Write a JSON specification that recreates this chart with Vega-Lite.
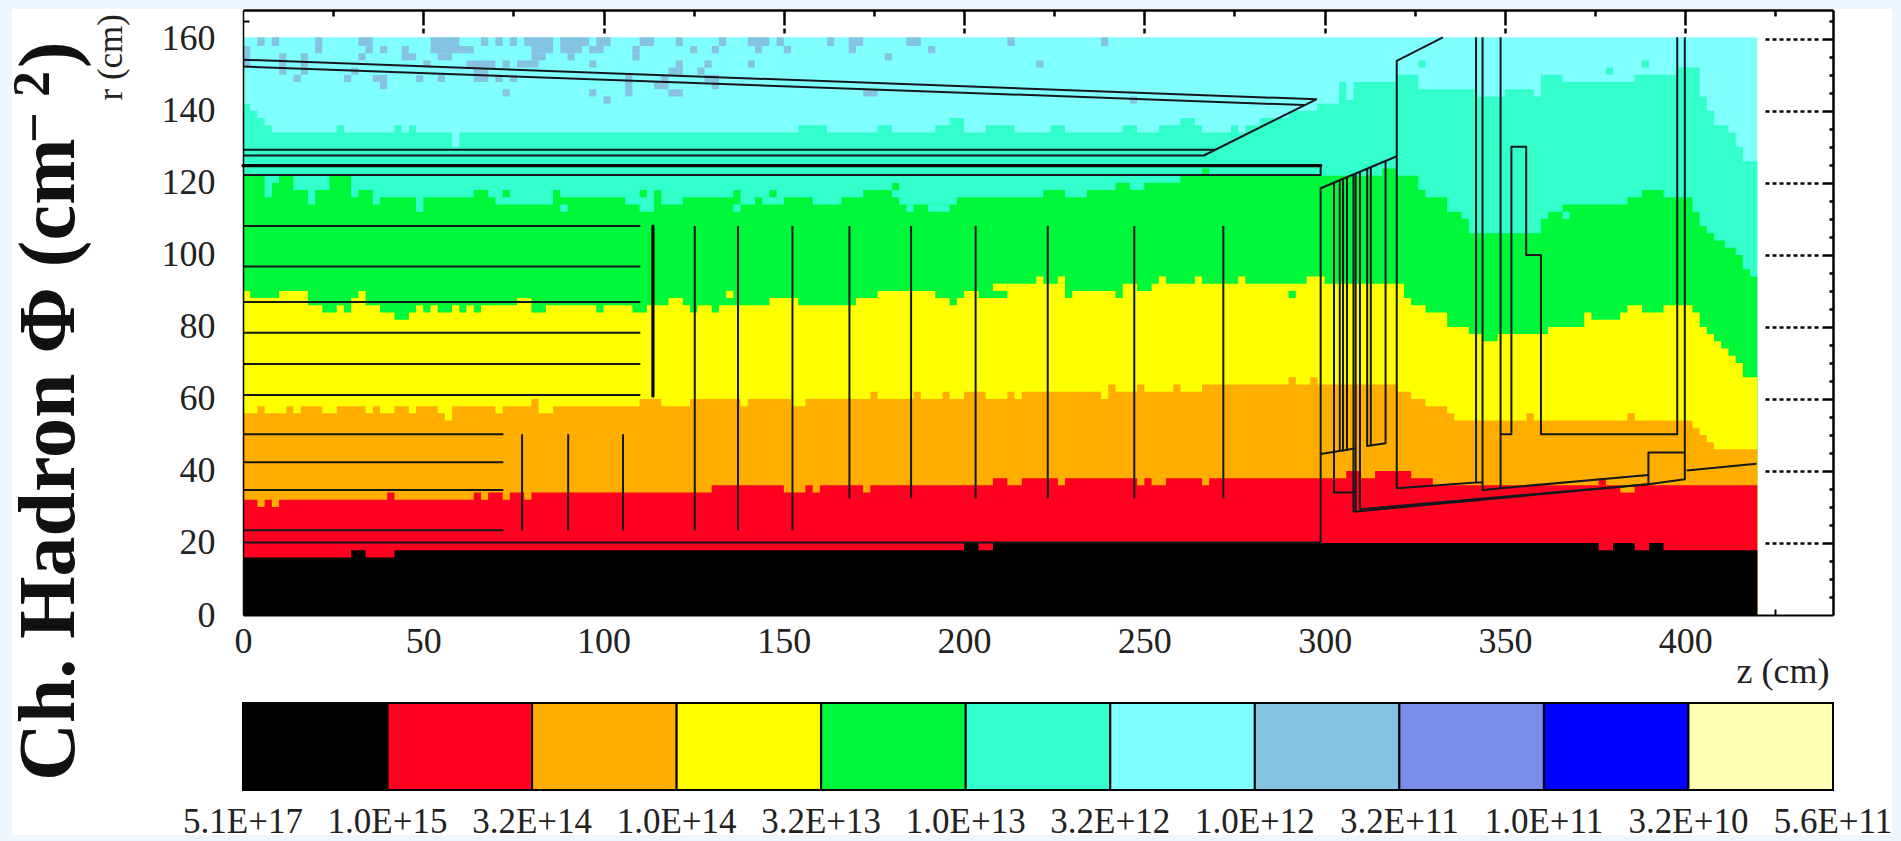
{"$schema":"https://vega.github.io/schema/vega-lite/v6.json","width":1590,"height":605,"autosize":{"type":"none"},"padding":{"left":243,"top":10,"right":68,"bottom":226},"background":"#eef7fe","config":{"view":{"stroke":null}},
"datasets":{
"bands":[
{"flux":"3.2E+12","z":0,"r":160.4},{"flux":"3.2E+12","z":420,"r":160.4},
{"flux":"1.0E+13","z":0,"r":142},{"flux":"1.0E+13","z":2,"r":140},{"flux":"1.0E+13","z":4,"r":138},{"flux":"1.0E+13","z":6,"r":136},{"flux":"1.0E+13","z":8,"r":134},{"flux":"1.0E+13","z":26,"r":136},{"flux":"1.0E+13","z":28,"r":134},{"flux":"1.0E+13","z":42,"r":136},{"flux":"1.0E+13","z":44,"r":134},{"flux":"1.0E+13","z":46,"r":136},{"flux":"1.0E+13","z":48,"r":134},{"flux":"1.0E+13","z":58,"r":130},{"flux":"1.0E+13","z":60,"r":134},{"flux":"1.0E+13","z":154,"r":136},{"flux":"1.0E+13","z":162,"r":134},{"flux":"1.0E+13","z":176,"r":136},{"flux":"1.0E+13","z":180,"r":134},{"flux":"1.0E+13","z":192,"r":136},{"flux":"1.0E+13","z":196,"r":138},{"flux":"1.0E+13","z":200,"r":134},{"flux":"1.0E+13","z":206,"r":136},{"flux":"1.0E+13","z":214,"r":134},{"flux":"1.0E+13","z":224,"r":136},{"flux":"1.0E+13","z":228,"r":134},{"flux":"1.0E+13","z":244,"r":136},{"flux":"1.0E+13","z":248,"r":134},{"flux":"1.0E+13","z":254,"r":136},{"flux":"1.0E+13","z":260,"r":138},{"flux":"1.0E+13","z":264,"r":136},{"flux":"1.0E+13","z":266,"r":134},{"flux":"1.0E+13","z":274,"r":136},{"flux":"1.0E+13","z":276,"r":134},{"flux":"1.0E+13","z":278,"r":136},{"flux":"1.0E+13","z":282,"r":138},{"flux":"1.0E+13","z":290,"r":140},{"flux":"1.0E+13","z":298,"r":142},{"flux":"1.0E+13","z":304,"r":148},{"flux":"1.0E+13","z":306,"r":143},{"flux":"1.0E+13","z":308,"r":148},{"flux":"1.0E+13","z":320,"r":150},{"flux":"1.0E+13","z":326,"r":146},{"flux":"1.0E+13","z":342,"r":144},{"flux":"1.0E+13","z":350,"r":146},{"flux":"1.0E+13","z":358,"r":144},{"flux":"1.0E+13","z":360,"r":150},{"flux":"1.0E+13","z":366,"r":148},{"flux":"1.0E+13","z":386,"r":150},{"flux":"1.0E+13","z":398,"r":152},{"flux":"1.0E+13","z":404,"r":144},{"flux":"1.0E+13","z":406,"r":140},{"flux":"1.0E+13","z":408,"r":136},{"flux":"1.0E+13","z":412,"r":134},{"flux":"1.0E+13","z":414,"r":130},{"flux":"1.0E+13","z":416,"r":126},{"flux":"1.0E+13","z":420,"r":126},
{"flux":"3.2E+13","z":0,"r":122},{"flux":"3.2E+13","z":6,"r":116},{"flux":"3.2E+13","z":8,"r":120},{"flux":"3.2E+13","z":10,"r":122},{"flux":"3.2E+13","z":14,"r":118},{"flux":"3.2E+13","z":18,"r":114},{"flux":"3.2E+13","z":20,"r":118},{"flux":"3.2E+13","z":24,"r":122},{"flux":"3.2E+13","z":30,"r":116},{"flux":"3.2E+13","z":32,"r":118},{"flux":"3.2E+13","z":36,"r":114},{"flux":"3.2E+13","z":38,"r":116},{"flux":"3.2E+13","z":48,"r":112},{"flux":"3.2E+13","z":50,"r":116},{"flux":"3.2E+13","z":64,"r":118},{"flux":"3.2E+13","z":68,"r":116},{"flux":"3.2E+13","z":70,"r":114},{"flux":"3.2E+13","z":86,"r":118},{"flux":"3.2E+13","z":88,"r":116},{"flux":"3.2E+13","z":106,"r":114},{"flux":"3.2E+13","z":110,"r":112},{"flux":"3.2E+13","z":114,"r":116},{"flux":"3.2E+13","z":116,"r":114},{"flux":"3.2E+13","z":122,"r":116},{"flux":"3.2E+13","z":136,"r":118},{"flux":"3.2E+13","z":138,"r":114},{"flux":"3.2E+13","z":142,"r":116},{"flux":"3.2E+13","z":144,"r":114},{"flux":"3.2E+13","z":150,"r":116},{"flux":"3.2E+13","z":158,"r":114},{"flux":"3.2E+13","z":166,"r":116},{"flux":"3.2E+13","z":172,"r":118},{"flux":"3.2E+13","z":180,"r":116},{"flux":"3.2E+13","z":182,"r":114},{"flux":"3.2E+13","z":198,"r":116},{"flux":"3.2E+13","z":222,"r":118},{"flux":"3.2E+13","z":228,"r":116},{"flux":"3.2E+13","z":234,"r":118},{"flux":"3.2E+13","z":242,"r":120},{"flux":"3.2E+13","z":246,"r":118},{"flux":"3.2E+13","z":250,"r":120},{"flux":"3.2E+13","z":260,"r":122},{"flux":"3.2E+13","z":316,"r":124},{"flux":"3.2E+13","z":320,"r":122},{"flux":"3.2E+13","z":326,"r":118},{"flux":"3.2E+13","z":328,"r":116},{"flux":"3.2E+13","z":334,"r":112},{"flux":"3.2E+13","z":338,"r":110},{"flux":"3.2E+13","z":340,"r":106},{"flux":"3.2E+13","z":360,"r":110},{"flux":"3.2E+13","z":362,"r":112},{"flux":"3.2E+13","z":366,"r":114},{"flux":"3.2E+13","z":384,"r":116},{"flux":"3.2E+13","z":388,"r":118},{"flux":"3.2E+13","z":394,"r":116},{"flux":"3.2E+13","z":402,"r":112},{"flux":"3.2E+13","z":404,"r":108},{"flux":"3.2E+13","z":406,"r":106},{"flux":"3.2E+13","z":408,"r":104},{"flux":"3.2E+13","z":411,"r":102},{"flux":"3.2E+13","z":414,"r":100},{"flux":"3.2E+13","z":416,"r":96},{"flux":"3.2E+13","z":418,"r":94},{"flux":"3.2E+13","z":420,"r":94},
{"flux":"1.0E+14","z":0,"r":90},{"flux":"1.0E+14","z":2,"r":88},{"flux":"1.0E+14","z":10,"r":90},{"flux":"1.0E+14","z":18,"r":86},{"flux":"1.0E+14","z":22,"r":84},{"flux":"1.0E+14","z":26,"r":86},{"flux":"1.0E+14","z":28,"r":84},{"flux":"1.0E+14","z":30,"r":88},{"flux":"1.0E+14","z":32,"r":90},{"flux":"1.0E+14","z":34,"r":86},{"flux":"1.0E+14","z":38,"r":84},{"flux":"1.0E+14","z":42,"r":82},{"flux":"1.0E+14","z":46,"r":84},{"flux":"1.0E+14","z":48,"r":86},{"flux":"1.0E+14","z":50,"r":84},{"flux":"1.0E+14","z":52,"r":86},{"flux":"1.0E+14","z":54,"r":84},{"flux":"1.0E+14","z":58,"r":86},{"flux":"1.0E+14","z":60,"r":84},{"flux":"1.0E+14","z":62,"r":86},{"flux":"1.0E+14","z":64,"r":84},{"flux":"1.0E+14","z":66,"r":86},{"flux":"1.0E+14","z":76,"r":88},{"flux":"1.0E+14","z":80,"r":84},{"flux":"1.0E+14","z":84,"r":86},{"flux":"1.0E+14","z":98,"r":84},{"flux":"1.0E+14","z":100,"r":86},{"flux":"1.0E+14","z":108,"r":84},{"flux":"1.0E+14","z":112,"r":86},{"flux":"1.0E+14","z":118,"r":88},{"flux":"1.0E+14","z":122,"r":86},{"flux":"1.0E+14","z":124,"r":84},{"flux":"1.0E+14","z":126,"r":86},{"flux":"1.0E+14","z":130,"r":84},{"flux":"1.0E+14","z":132,"r":86},{"flux":"1.0E+14","z":146,"r":88},{"flux":"1.0E+14","z":154,"r":86},{"flux":"1.0E+14","z":170,"r":88},{"flux":"1.0E+14","z":176,"r":90},{"flux":"1.0E+14","z":192,"r":88},{"flux":"1.0E+14","z":196,"r":86},{"flux":"1.0E+14","z":198,"r":88},{"flux":"1.0E+14","z":200,"r":90},{"flux":"1.0E+14","z":204,"r":88},{"flux":"1.0E+14","z":212,"r":92},{"flux":"1.0E+14","z":220,"r":94},{"flux":"1.0E+14","z":222,"r":92},{"flux":"1.0E+14","z":228,"r":88},{"flux":"1.0E+14","z":230,"r":90},{"flux":"1.0E+14","z":242,"r":88},{"flux":"1.0E+14","z":244,"r":92},{"flux":"1.0E+14","z":248,"r":90},{"flux":"1.0E+14","z":252,"r":92},{"flux":"1.0E+14","z":254,"r":94},{"flux":"1.0E+14","z":256,"r":92},{"flux":"1.0E+14","z":264,"r":94},{"flux":"1.0E+14","z":266,"r":92},{"flux":"1.0E+14","z":276,"r":94},{"flux":"1.0E+14","z":278,"r":92},{"flux":"1.0E+14","z":295,"r":94},{"flux":"1.0E+14","z":300,"r":92},{"flux":"1.0E+14","z":322,"r":88},{"flux":"1.0E+14","z":324,"r":86},{"flux":"1.0E+14","z":328,"r":84},{"flux":"1.0E+14","z":334,"r":80},{"flux":"1.0E+14","z":340,"r":78},{"flux":"1.0E+14","z":344,"r":76},{"flux":"1.0E+14","z":348,"r":78},{"flux":"1.0E+14","z":362,"r":80},{"flux":"1.0E+14","z":372,"r":84},{"flux":"1.0E+14","z":374,"r":82},{"flux":"1.0E+14","z":382,"r":84},{"flux":"1.0E+14","z":384,"r":86},{"flux":"1.0E+14","z":388,"r":84},{"flux":"1.0E+14","z":394,"r":86},{"flux":"1.0E+14","z":402,"r":84},{"flux":"1.0E+14","z":404,"r":80},{"flux":"1.0E+14","z":406,"r":78},{"flux":"1.0E+14","z":408,"r":76},{"flux":"1.0E+14","z":410,"r":74},{"flux":"1.0E+14","z":412,"r":72},{"flux":"1.0E+14","z":414,"r":70},{"flux":"1.0E+14","z":416,"r":66},{"flux":"1.0E+14","z":420,"r":66},
{"flux":"3.2E+14","z":0,"r":56},{"flux":"3.2E+14","z":4,"r":58},{"flux":"3.2E+14","z":6,"r":56},{"flux":"3.2E+14","z":12,"r":58},{"flux":"3.2E+14","z":14,"r":56},{"flux":"3.2E+14","z":16,"r":58},{"flux":"3.2E+14","z":22,"r":56},{"flux":"3.2E+14","z":26,"r":58},{"flux":"3.2E+14","z":34,"r":56},{"flux":"3.2E+14","z":36,"r":58},{"flux":"3.2E+14","z":38,"r":56},{"flux":"3.2E+14","z":42,"r":58},{"flux":"3.2E+14","z":46,"r":56},{"flux":"3.2E+14","z":48,"r":58},{"flux":"3.2E+14","z":54,"r":56},{"flux":"3.2E+14","z":56,"r":54},{"flux":"3.2E+14","z":58,"r":58},{"flux":"3.2E+14","z":70,"r":56},{"flux":"3.2E+14","z":72,"r":58},{"flux":"3.2E+14","z":80,"r":60},{"flux":"3.2E+14","z":82,"r":56},{"flux":"3.2E+14","z":86,"r":58},{"flux":"3.2E+14","z":110,"r":60},{"flux":"3.2E+14","z":116,"r":58},{"flux":"3.2E+14","z":124,"r":60},{"flux":"3.2E+14","z":138,"r":58},{"flux":"3.2E+14","z":140,"r":60},{"flux":"3.2E+14","z":152,"r":58},{"flux":"3.2E+14","z":156,"r":60},{"flux":"3.2E+14","z":174,"r":62},{"flux":"3.2E+14","z":176,"r":60},{"flux":"3.2E+14","z":186,"r":62},{"flux":"3.2E+14","z":188,"r":60},{"flux":"3.2E+14","z":194,"r":62},{"flux":"3.2E+14","z":196,"r":60},{"flux":"3.2E+14","z":200,"r":62},{"flux":"3.2E+14","z":206,"r":60},{"flux":"3.2E+14","z":212,"r":62},{"flux":"3.2E+14","z":214,"r":60},{"flux":"3.2E+14","z":216,"r":62},{"flux":"3.2E+14","z":238,"r":60},{"flux":"3.2E+14","z":240,"r":64},{"flux":"3.2E+14","z":242,"r":62},{"flux":"3.2E+14","z":248,"r":64},{"flux":"3.2E+14","z":250,"r":62},{"flux":"3.2E+14","z":258,"r":64},{"flux":"3.2E+14","z":260,"r":62},{"flux":"3.2E+14","z":266,"r":64},{"flux":"3.2E+14","z":290,"r":66},{"flux":"3.2E+14","z":292,"r":64},{"flux":"3.2E+14","z":296,"r":66},{"flux":"3.2E+14","z":298,"r":64},{"flux":"3.2E+14","z":320,"r":62},{"flux":"3.2E+14","z":324,"r":60},{"flux":"3.2E+14","z":328,"r":58},{"flux":"3.2E+14","z":334,"r":56},{"flux":"3.2E+14","z":336,"r":54},{"flux":"3.2E+14","z":356,"r":56},{"flux":"3.2E+14","z":358,"r":54},{"flux":"3.2E+14","z":384,"r":56},{"flux":"3.2E+14","z":386,"r":54},{"flux":"3.2E+14","z":402,"r":52},{"flux":"3.2E+14","z":404,"r":50},{"flux":"3.2E+14","z":406,"r":48},{"flux":"3.2E+14","z":408,"r":46},{"flux":"3.2E+14","z":420,"r":46},
{"flux":"1.0E+15","z":0,"r":32},{"flux":"1.0E+15","z":4,"r":30},{"flux":"1.0E+15","z":6,"r":32},{"flux":"1.0E+15","z":8,"r":30},{"flux":"1.0E+15","z":10,"r":32},{"flux":"1.0E+15","z":40,"r":34},{"flux":"1.0E+15","z":42,"r":32},{"flux":"1.0E+15","z":64,"r":34},{"flux":"1.0E+15","z":66,"r":32},{"flux":"1.0E+15","z":68,"r":34},{"flux":"1.0E+15","z":72,"r":32},{"flux":"1.0E+15","z":74,"r":34},{"flux":"1.0E+15","z":78,"r":32},{"flux":"1.0E+15","z":80,"r":34},{"flux":"1.0E+15","z":130,"r":36},{"flux":"1.0E+15","z":150,"r":34},{"flux":"1.0E+15","z":156,"r":36},{"flux":"1.0E+15","z":158,"r":34},{"flux":"1.0E+15","z":160,"r":36},{"flux":"1.0E+15","z":172,"r":34},{"flux":"1.0E+15","z":174,"r":36},{"flux":"1.0E+15","z":208,"r":38},{"flux":"1.0E+15","z":212,"r":36},{"flux":"1.0E+15","z":216,"r":38},{"flux":"1.0E+15","z":226,"r":36},{"flux":"1.0E+15","z":228,"r":38},{"flux":"1.0E+15","z":248,"r":36},{"flux":"1.0E+15","z":250,"r":38},{"flux":"1.0E+15","z":252,"r":36},{"flux":"1.0E+15","z":256,"r":38},{"flux":"1.0E+15","z":266,"r":36},{"flux":"1.0E+15","z":268,"r":38},{"flux":"1.0E+15","z":306,"r":40},{"flux":"1.0E+15","z":310,"r":38},{"flux":"1.0E+15","z":314,"r":40},{"flux":"1.0E+15","z":324,"r":38},{"flux":"1.0E+15","z":330,"r":36},{"flux":"1.0E+15","z":420,"r":36},
{"flux":"5.1E+17","z":0,"r":16},{"flux":"5.1E+17","z":30,"r":18},{"flux":"5.1E+17","z":34,"r":16},{"flux":"5.1E+17","z":42,"r":18},{"flux":"5.1E+17","z":200,"r":20},{"flux":"5.1E+17","z":204,"r":18},{"flux":"5.1E+17","z":208,"r":20},{"flux":"5.1E+17","z":376,"r":18},{"flux":"5.1E+17","z":380,"r":20},{"flux":"5.1E+17","z":386,"r":18},{"flux":"5.1E+17","z":390,"r":20},{"flux":"5.1E+17","z":394,"r":18},{"flux":"5.1E+17","z":420,"r":18}
],
"cells":[
{"flux":"1.0E+12","z":4,"z2":6,"r":158,"r2":160.4},{"flux":"1.0E+12","z":8,"z2":10,"r":158,"r2":160.4},{"flux":"1.0E+12","z":20,"z2":22,"r":158,"r2":160.4},{"flux":"1.0E+12","z":32,"z2":36,"r":158,"r2":160.4},{"flux":"1.0E+12","z":52,"z2":60,"r":158,"r2":160.4},{"flux":"1.0E+12","z":66,"z2":68,"r":158,"r2":160.4},{"flux":"1.0E+12","z":70,"z2":72,"r":158,"r2":160.4},{"flux":"1.0E+12","z":74,"z2":76,"r":158,"r2":160.4},{"flux":"1.0E+12","z":78,"z2":86,"r":158,"r2":160.4},{"flux":"1.0E+12","z":88,"z2":96,"r":158,"r2":160.4},{"flux":"1.0E+12","z":98,"z2":102,"r":158,"r2":160.4},{"flux":"1.0E+12","z":110,"z2":114,"r":158,"r2":160.4},{"flux":"1.0E+12","z":120,"z2":122,"r":158,"r2":160.4},{"flux":"1.0E+12","z":132,"z2":134,"r":158,"r2":160.4},{"flux":"1.0E+12","z":140,"z2":146,"r":158,"r2":160.4},{"flux":"1.0E+12","z":148,"z2":150,"r":158,"r2":160.4},{"flux":"1.0E+12","z":162,"z2":164,"r":158,"r2":160.4},{"flux":"1.0E+12","z":168,"z2":172,"r":158,"r2":160.4},{"flux":"1.0E+12","z":184,"z2":188,"r":158,"r2":160.4},{"flux":"1.0E+12","z":212,"z2":214,"r":158,"r2":160.4},{"flux":"1.0E+12","z":238,"z2":240,"r":158,"r2":160.4},
{"flux":"1.0E+12","z":0,"z2":2,"r":156,"r2":158},{"flux":"1.0E+12","z":20,"z2":22,"r":156,"r2":158},{"flux":"1.0E+12","z":34,"z2":36,"r":156,"r2":158},{"flux":"1.0E+12","z":38,"z2":40,"r":156,"r2":158},{"flux":"1.0E+12","z":44,"z2":46,"r":156,"r2":158},{"flux":"1.0E+12","z":52,"z2":64,"r":156,"r2":158},{"flux":"1.0E+12","z":80,"z2":86,"r":156,"r2":158},{"flux":"1.0E+12","z":88,"z2":94,"r":156,"r2":158},{"flux":"1.0E+12","z":96,"z2":100,"r":156,"r2":158},{"flux":"1.0E+12","z":108,"z2":110,"r":156,"r2":158},{"flux":"1.0E+12","z":124,"z2":126,"r":156,"r2":158},{"flux":"1.0E+12","z":130,"z2":132,"r":156,"r2":158},{"flux":"1.0E+12","z":142,"z2":144,"r":156,"r2":158},{"flux":"1.0E+12","z":150,"z2":152,"r":156,"r2":158},{"flux":"1.0E+12","z":168,"z2":170,"r":156,"r2":158},{"flux":"1.0E+12","z":190,"z2":192,"r":156,"r2":158},
{"flux":"1.0E+12","z":0,"z2":2,"r":154,"r2":156},{"flux":"1.0E+12","z":10,"z2":12,"r":154,"r2":156},{"flux":"1.0E+12","z":16,"z2":18,"r":154,"r2":156},{"flux":"1.0E+12","z":32,"z2":34,"r":154,"r2":156},{"flux":"1.0E+12","z":44,"z2":48,"r":154,"r2":156},{"flux":"1.0E+12","z":54,"z2":58,"r":154,"r2":156},{"flux":"1.0E+12","z":80,"z2":84,"r":154,"r2":156},{"flux":"1.0E+12","z":90,"z2":92,"r":154,"r2":156},{"flux":"1.0E+12","z":108,"z2":110,"r":154,"r2":156},{"flux":"1.0E+12","z":178,"z2":180,"r":154,"r2":156},
{"flux":"1.0E+12","z":0,"z2":2,"r":152,"r2":154},{"flux":"1.0E+12","z":10,"z2":12,"r":152,"r2":154},{"flux":"1.0E+12","z":16,"z2":18,"r":152,"r2":154},{"flux":"1.0E+12","z":50,"z2":52,"r":152,"r2":154},{"flux":"1.0E+12","z":62,"z2":70,"r":152,"r2":154},{"flux":"1.0E+12","z":72,"z2":74,"r":152,"r2":154},{"flux":"1.0E+12","z":76,"z2":82,"r":152,"r2":154},{"flux":"1.0E+12","z":96,"z2":98,"r":152,"r2":154},{"flux":"1.0E+12","z":120,"z2":122,"r":152,"r2":154},{"flux":"1.0E+12","z":128,"z2":130,"r":152,"r2":154},{"flux":"1.0E+12","z":140,"z2":142,"r":152,"r2":154},{"flux":"1.0E+12","z":220,"z2":222,"r":152,"r2":154},
{"flux":"1.0E+12","z":10,"z2":12,"r":150,"r2":152},{"flux":"1.0E+12","z":16,"z2":18,"r":150,"r2":152},{"flux":"1.0E+12","z":30,"z2":32,"r":150,"r2":152},{"flux":"1.0E+12","z":64,"z2":68,"r":150,"r2":152},{"flux":"1.0E+12","z":118,"z2":122,"r":150,"r2":152},{"flux":"1.0E+12","z":126,"z2":128,"r":150,"r2":152},
{"flux":"1.0E+12","z":14,"z2":16,"r":148,"r2":150},{"flux":"1.0E+12","z":28,"z2":30,"r":148,"r2":150},{"flux":"1.0E+12","z":36,"z2":40,"r":148,"r2":150},{"flux":"1.0E+12","z":48,"z2":50,"r":148,"r2":150},{"flux":"1.0E+12","z":54,"z2":56,"r":148,"r2":150},{"flux":"1.0E+12","z":64,"z2":68,"r":148,"r2":150},{"flux":"1.0E+12","z":70,"z2":72,"r":148,"r2":150},{"flux":"1.0E+12","z":74,"z2":76,"r":148,"r2":150},{"flux":"1.0E+12","z":106,"z2":108,"r":148,"r2":150},{"flux":"1.0E+12","z":116,"z2":118,"r":148,"r2":150},{"flux":"1.0E+12","z":128,"z2":132,"r":148,"r2":150},
{"flux":"1.0E+12","z":38,"z2":40,"r":146,"r2":148},{"flux":"1.0E+12","z":106,"z2":108,"r":146,"r2":148},{"flux":"1.0E+12","z":114,"z2":118,"r":146,"r2":148},{"flux":"1.0E+12","z":130,"z2":132,"r":146,"r2":148},
{"flux":"1.0E+12","z":72,"z2":74,"r":144,"r2":146},{"flux":"1.0E+12","z":96,"z2":98,"r":144,"r2":146},{"flux":"1.0E+12","z":106,"z2":108,"r":144,"r2":146},{"flux":"1.0E+12","z":118,"z2":122,"r":144,"r2":146},{"flux":"1.0E+12","z":172,"z2":176,"r":144,"r2":146},
{"flux":"1.0E+12","z":100,"z2":102,"r":142,"r2":144},{"flux":"1.0E+12","z":246,"z2":248,"r":142,"r2":144},
{"flux":"1.0E+13","z":326,"z2":328,"r":152,"r2":154},{"flux":"1.0E+13","z":378,"z2":380,"r":150,"r2":152},{"flux":"1.0E+13","z":388,"z2":390,"r":152,"r2":154},
{"flux":"3.2E+13","z":64,"z2":66,"r":116,"r2":118},{"flux":"3.2E+13","z":72,"z2":74,"r":116,"r2":118},{"flux":"3.2E+13","z":110,"z2":112,"r":116,"r2":118},{"flux":"3.2E+13","z":114,"z2":116,"r":116,"r2":118},{"flux":"3.2E+13","z":146,"z2":148,"r":116,"r2":118},{"flux":"3.2E+13","z":180,"z2":182,"r":118,"r2":120},{"flux":"3.2E+13","z":266,"z2":268,"r":122,"r2":124},
{"flux":"1.0E+13","z":88,"z2":90,"r":112,"r2":114},{"flux":"1.0E+13","z":136,"z2":138,"r":112,"r2":114},{"flux":"1.0E+13","z":184,"z2":186,"r":112,"r2":114},{"flux":"1.0E+13","z":190,"z2":196,"r":112,"r2":114},{"flux":"1.0E+13","z":366,"z2":368,"r":110,"r2":112},
{"flux":"1.0E+14","z":134,"z2":136,"r":88,"r2":90},{"flux":"1.0E+14","z":208,"z2":212,"r":90,"r2":92},{"flux":"1.0E+14","z":226,"z2":228,"r":92,"r2":94},
{"flux":"3.2E+13","z":290,"z2":292,"r":88,"r2":90},
{"flux":"1.0E+15","z":376,"z2":378,"r":36,"r2":38},{"flux":"3.2E+14","z":382,"z2":386,"r":34,"r2":36}
],
"outline":[
{"part":"a","seq":1,"z":0,"r":154.2},{"part":"a","seq":2,"z":297.7,"r":143.2},{"part":"a","seq":3,"z":266.5,"r":127.6},{"part":"a","seq":4,"z":0,"r":127.6},
{"part":"b","seq":1,"z":0,"r":152.3},{"part":"b","seq":2,"z":294.3,"r":141.6},
{"part":"b2","seq":1,"z":0,"r":129.2},{"part":"b2","seq":2,"z":269.6,"r":129.2},
{"part":"c","seq":1,"z":0,"r":122.2},{"part":"c","seq":2,"z":298.9,"r":122.2},{"part":"c","seq":3,"z":298.9,"r":124.8},
{"part":"h1","seq":1,"z":0,"r":108},{"part":"h1","seq":2,"z":110.2,"r":108},{"part":"h2","seq":1,"z":0,"r":96.8},{"part":"h2","seq":2,"z":110.2,"r":96.8},{"part":"h3","seq":1,"z":0,"r":86.9},{"part":"h3","seq":2,"z":110.2,"r":86.9},{"part":"h4","seq":1,"z":0,"r":78.4},{"part":"h4","seq":2,"z":110.2,"r":78.4},{"part":"h5","seq":1,"z":0,"r":69.7},{"part":"h5","seq":2,"z":110.2,"r":69.7},{"part":"h6","seq":1,"z":0,"r":61.1},{"part":"h6","seq":2,"z":110.2,"r":61.1},
{"part":"h7","seq":1,"z":0,"r":50.2},{"part":"h7","seq":2,"z":72.2,"r":50.2},{"part":"h8","seq":1,"z":0,"r":42.4},{"part":"h8","seq":2,"z":72.2,"r":42.4},{"part":"h9","seq":1,"z":0,"r":34.7},{"part":"h9","seq":2,"z":72.2,"r":34.7},{"part":"h10","seq":1,"z":0,"r":23.5},{"part":"h10","seq":2,"z":72.2,"r":23.5},
{"part":"e","seq":1,"z":0,"r":20.1},{"part":"e","seq":2,"z":298.9,"r":20.1},{"part":"e","seq":3,"z":298.9,"r":118.5},{"part":"e","seq":4,"z":320,"r":127.4},
{"part":"v1","seq":1,"z":77.4,"r":50.2},{"part":"v1","seq":2,"z":77.4,"r":23.5},{"part":"v2","seq":1,"z":90.2,"r":50.2},{"part":"v2","seq":2,"z":90.2,"r":23.5},{"part":"v3","seq":1,"z":105.4,"r":50.2},{"part":"v3","seq":2,"z":105.4,"r":23.5},
{"part":"v4","seq":1,"z":125.3,"r":108},{"part":"v4","seq":2,"z":125.3,"r":23.5},{"part":"v5","seq":1,"z":137.3,"r":108},{"part":"v5","seq":2,"z":137.3,"r":23.5},{"part":"v6","seq":1,"z":152.4,"r":108},{"part":"v6","seq":2,"z":152.4,"r":23.5},
{"part":"v7","seq":1,"z":168.2,"r":108},{"part":"v7","seq":2,"z":168.2,"r":32.4},{"part":"v8","seq":1,"z":185.3,"r":108},{"part":"v8","seq":2,"z":185.3,"r":32.4},{"part":"v9","seq":1,"z":203.2,"r":108},{"part":"v9","seq":2,"z":203.2,"r":32.4},{"part":"v10","seq":1,"z":223.2,"r":108},{"part":"v10","seq":2,"z":223.2,"r":32.4},{"part":"v11","seq":1,"z":247.2,"r":108},{"part":"v11","seq":2,"z":247.2,"r":32.4},{"part":"v12","seq":1,"z":271.9,"r":108},{"part":"v12","seq":2,"z":271.9,"r":32.4},
{"part":"f","seq":1,"z":332.8,"r":160.4},{"part":"f","seq":2,"z":320,"r":153.9},{"part":"f","seq":3,"z":320,"r":35.2},{"part":"f","seq":4,"z":342,"r":36.8},{"part":"f","seq":5,"z":342,"r":160.4},
{"part":"g","seq":1,"z":298.9,"r":44.7},{"part":"g","seq":2,"z":308.8,"r":46.3},
{"part":"k1","seq":1,"z":302.6,"r":120.1},{"part":"k1","seq":2,"z":302.6,"r":34},{"part":"k1","seq":3,"z":308.4,"r":34},
{"part":"k2","seq":1,"z":304.2,"r":120.8},{"part":"k2","seq":2,"z":304.2,"r":45.3},{"part":"k3","seq":1,"z":305.1,"r":121.1},{"part":"k3","seq":2,"z":305.1,"r":45.4},{"part":"k4","seq":1,"z":306.2,"r":121.6},{"part":"k4","seq":2,"z":306.2,"r":45.6},
{"part":"k5","seq":1,"z":308,"r":122.4},{"part":"k5","seq":2,"z":308,"r":28.7},{"part":"k6","seq":1,"z":308.6,"r":122.6},{"part":"k6","seq":2,"z":308.6,"r":28.7},{"part":"k7","seq":1,"z":309.8,"r":123.1},{"part":"k7","seq":2,"z":309.8,"r":29.4},
{"part":"m1","seq":1,"z":311.8,"r":124},{"part":"m1","seq":2,"z":311.8,"r":46.9},{"part":"m1","seq":3,"z":316.9,"r":47.7},{"part":"m1","seq":4,"z":316.9,"r":126.1},{"part":"m2","seq":1,"z":312.8,"r":124.4},{"part":"m2","seq":2,"z":312.8,"r":47},
{"part":"j","seq":1,"z":308,"r":28.7},{"part":"j","seq":2,"z":389.8,"r":36.3},{"part":"j","seq":3,"z":399.9,"r":37.7},{"part":"j","seq":4,"z":399.9,"r":160.4},
{"part":"jj","seq":1,"z":309.8,"r":29.4},{"part":"jj","seq":2,"z":389.8,"r":36.3},
{"part":"l","seq":1,"z":342,"r":36.8},{"part":"l","seq":2,"z":343.8,"r":36.8},
{"part":"n","seq":1,"z":343.8,"r":160.4},{"part":"n","seq":2,"z":343.8,"r":34.7},{"part":"n","seq":3,"z":348.8,"r":35.2},{"part":"n","seq":4,"z":389.8,"r":38.9},
{"part":"o","seq":1,"z":348.8,"r":160.4},{"part":"o","seq":2,"z":348.8,"r":35.2},
{"part":"p","seq":1,"z":348.8,"r":50.2},{"part":"p","seq":2,"z":351.8,"r":50.2},{"part":"p","seq":3,"z":351.8,"r":130},{"part":"p","seq":4,"z":355.9,"r":130},{"part":"p","seq":5,"z":355.9,"r":100},{"part":"p","seq":6,"z":360,"r":100},{"part":"p","seq":7,"z":360,"r":50.2},{"part":"p","seq":8,"z":397.8,"r":50.2},{"part":"p","seq":9,"z":397.8,"r":160.4},
{"part":"q","seq":1,"z":389.8,"r":36.3},{"part":"q","seq":2,"z":389.8,"r":45.1},{"part":"q","seq":3,"z":399.9,"r":45.1},
{"part":"s","seq":1,"z":400.4,"r":40.1},{"part":"s","seq":2,"z":419.8,"r":42}
],
"heavy":[
{"part":"d","seq":1,"z":0,"r":124.8},{"part":"d","seq":2,"z":298.9,"r":124.8},
{"part":"t","seq":1,"z":113.7,"r":108},{"part":"t","seq":2,"z":113.7,"r":60.8}
],
"swatches":[
{"flux":"5.1E+17","i":0,"i2":1},{"flux":"1.0E+15","i":1,"i2":2},{"flux":"3.2E+14","i":2,"i2":3},{"flux":"1.0E+14","i":3,"i2":4},{"flux":"3.2E+13","i":4,"i2":5},{"flux":"1.0E+13","i":5,"i2":6},{"flux":"3.2E+12","i":6,"i2":7},{"flux":"1.0E+12","i":7,"i2":8},{"flux":"3.2E+11","i":8,"i2":9},{"flux":"1.0E+11","i":9,"i2":10},{"flux":"3.2E+10","i":10,"i2":11}
],
"ticks":[
{"i":0,"label":"5.1E+17"},{"i":1,"label":"1.0E+15"},{"i":2,"label":"3.2E+14"},{"i":3,"label":"1.0E+14"},{"i":4,"label":"3.2E+13"},{"i":5,"label":"1.0E+13"},{"i":6,"label":"3.2E+12"},{"i":7,"label":"1.0E+12"},{"i":8,"label":"3.2E+11"},{"i":9,"label":"1.0E+11"},{"i":10,"label":"3.2E+10"},{"i":11,"label":"5.6E+11"}
]
},
"resolve":{"scale":{"x":"independent","y":"independent"}},
"layer":[
{"layer":[
{"data":{"values":[{"a":-1.6,"b":11.41,"c":8.977,"d":-0.517}]},"mark":{"type":"rect","fill":"#ffffff"},"encoding":{"x":{"field":"a","type":"quantitative","axis":null,"scale":{"domain":[0,11],"range":[0,1590]}},"x2":{"field":"b"},"y":{"field":"c","type":"quantitative","axis":null,"scale":{"domain":[0,1],"range":[780,693]}},"y2":{"field":"d"}}},
{"data":{"name":"swatches"},"mark":{"type":"rect","stroke":"#000000","strokeWidth":2},"encoding":{"x":{"field":"i","type":"quantitative","axis":null},"x2":{"field":"i2"},"y":{"datum":0,"type":"quantitative","axis":null},"y2":{"datum":1},"color":{"field":"flux","type":"nominal","legend":null,"scale":{"domain":["5.1E+17","1.0E+15","3.2E+14","1.0E+14","3.2E+13","1.0E+13","3.2E+12","1.0E+12","3.2E+11","1.0E+11","3.2E+10"],"range":["#000000","#ff0020","#ffae00","#ffff00","#00f83a","#33ffcc","#80ffff","#86c3e3","#7b8ce8","#0000ff","#ffffb3"]}}}},
{"data":{"name":"ticks"},"mark":{"type":"text","font":"Liberation Serif","fontSize":35,"align":"center","baseline":"alphabetic","color":"#222222"},"encoding":{"x":{"field":"i","type":"quantitative","axis":null},"y":{"datum":-0.494,"type":"quantitative","axis":null},"text":{"field":"label"}}},
{"data":{"values":[{"t":"Ch. Hadron Φ (cm"}]},"mark":{"type":"text","font":"Liberation Serif","fontWeight":"bold","fontSize":80,"angle":270,"align":"left","baseline":"alphabetic","color":"#111111"},"encoding":{"x":{"datum":-1.169,"type":"quantitative","axis":null},"y":{"datum":0.103,"type":"quantitative","axis":null},"text":{"field":"t"}}},
{"data":{"values":[{"t":"−"}]},"mark":{"type":"text","font":"Liberation Serif","fontWeight":"bold","fontSize":54,"angle":270,"align":"left","baseline":"alphabetic","color":"#111111"},"encoding":{"x":{"datum":-1.321,"type":"quantitative","axis":null},"y":{"datum":7.437,"type":"quantitative","axis":null},"text":{"field":"t"}}},
{"data":{"values":[{"t":"2"}]},"mark":{"type":"text","font":"Liberation Serif","fontWeight":"bold","fontSize":52,"angle":270,"align":"left","baseline":"alphabetic","color":"#111111"},"encoding":{"x":{"datum":-1.342,"type":"quantitative","axis":null},"y":{"datum":7.966,"type":"quantitative","axis":null},"text":{"field":"t"}}},
{"data":{"values":[{"t":")"}]},"mark":{"type":"text","font":"Liberation Serif","fontWeight":"bold","fontSize":80,"angle":270,"align":"left","baseline":"alphabetic","color":"#111111"},"encoding":{"x":{"datum":-1.169,"type":"quantitative","axis":null},"y":{"datum":8.299,"type":"quantitative","axis":null},"text":{"field":"t"}}}
]},
{"resolve":{"axis":{"x":"independent","y":"independent"}},"layer":[
{"data":{"name":"bands"},"mark":{"type":"area","interpolate":"step-after"},"encoding":{
"x":{"field":"z","type":"quantitative","scale":{"domain":[0,441],"nice":false},"axis":{"orient":"bottom","zindex":1,"grid":false,"values":[0,50,100,150,200,250,300,350,400,425],"labelExpr":"datum.value==425?'':datum.label","labelFont":"Liberation Serif","labelFontSize":36,"labelColor":"#222222","labelPadding":15,"labelOverlap":false,"labelFlush":false,"tickSize":-6,"tickWidth":2,"tickColor":"#000000","tickOpacity":{"condition":{"test":"datum.value==425","value":1},"value":0},"domainColor":"#000000","domainWidth":2,"title":"z (cm)","titleFont":"Liberation Serif","titleFontSize":36,"titleFontWeight":"normal","titleColor":"#222222","titleX":1586,"titleY":67,"titleAlign":"right","titleBaseline":"alphabetic"}},
"y":{"field":"r","type":"quantitative","stack":null,"scale":{"domain":[0,168],"nice":false},"axis":{"orient":"left","zindex":1,"grid":false,"values":[0,20,40,60,80,100,120,140,160,165],"labelExpr":"datum.value==165?'':datum.label","labelFont":"Liberation Serif","labelFontSize":36,"labelColor":"#222222","labelPadding":34,"labelOverlap":false,"labelFlush":false,"tickSize":-6,"tickWidth":2,"tickColor":"#000000","tickOpacity":{"condition":{"test":"datum.value==165","value":1},"value":0},"domainColor":"#000000","domainWidth":1.5,"title":"r (cm)","titleFont":"Liberation Serif","titleFontSize":35,"titleFontWeight":"normal","titleColor":"#222222","titleX":-122,"titleY":90,"titleAngle":270,"titleAlign":"left","titleBaseline":"alphabetic"}},
"color":{"field":"flux","type":"nominal","legend":null}}},
{"data":{"name":"cells"},"mark":{"type":"rect"},"encoding":{
"x":{"field":"z","type":"quantitative","axis":{"orient":"top","zindex":1,"grid":false,"values":[25,50,75,100,125,150,175,200,225,250,275,300,325,350,375,400,425],"labels":false,"title":null,"tickWidth":2.5,"tickColor":"#000000","tickSize":{"condition":{"test":"datum.value%50==0","value":-23},"value":-6},"tickDash":{"condition":{"test":"datum.value%50==0","value":[15,3,6,3]},"value":[]},"domainColor":"#000000","domainWidth":2.5}},"x2":{"field":"z2"},
"y":{"field":"r","type":"quantitative","axis":{"orient":"right","zindex":1,"grid":false,"values":[5,10,15,20,25,30,35,40,45,50,55,60,65,70,75,80,85,90,95,100,105,110,115,120,125,130,135,140,145,150,155,160,165],"labels":false,"title":null,"tickWidth":2.5,"tickColor":"#000000","tickSize":{"condition":{"test":"datum.value%20==0","value":-68},"value":-4},"tickDash":{"condition":{"test":"datum.value%20==0","value":[11,4,4,3,4,3,4,3,4,3,4,3,4,3,4,3,4,20]},"value":[]},"domainColor":"#000000","domainWidth":2.5}},"y2":{"field":"r2"},
"color":{"field":"flux","type":"nominal","legend":null}}},
{"data":{"name":"outline"},"mark":{"type":"line","strokeWidth":2,"color":"#14181c","strokeJoin":"round"},"encoding":{"x":{"field":"z","type":"quantitative","axis":null},"y":{"field":"r","type":"quantitative","axis":null},"detail":{"field":"part"},"order":{"field":"seq","type":"quantitative"}}},
{"data":{"name":"heavy"},"mark":{"type":"line","strokeWidth":3.2,"color":"#050505","strokeCap":"round"},"encoding":{"x":{"field":"z","type":"quantitative","axis":null},"y":{"field":"r","type":"quantitative","axis":null},"detail":{"field":"part"},"order":{"field":"seq","type":"quantitative"}}}
]}
]}
